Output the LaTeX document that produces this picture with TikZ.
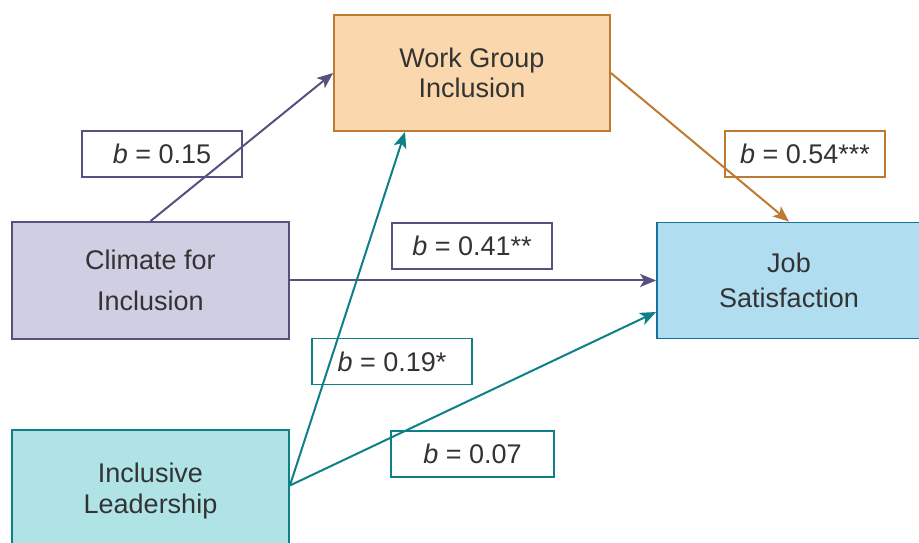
\documentclass[tikz,border=0pt]{standalone}
\usepackage{fontspec}
\setmainfont{Liberation Sans}
\usetikzlibrary{arrows.meta,calc}
\definecolor{wgifill}{HTML}{FAD7AC}
\definecolor{wgidraw}{HTML}{BD7A33}
\definecolor{clifill}{HTML}{D0CEE2}
\definecolor{clidraw}{HTML}{56517E}
\definecolor{leafill}{HTML}{B0E3E6}
\definecolor{leadraw}{HTML}{0E8088}
\definecolor{jsfill}{HTML}{B1DDF0}
\definecolor{jsdraw}{HTML}{10739E}
\definecolor{txt}{HTML}{333333}
\begin{document}
\begin{tikzpicture}[x=1pt,y=1pt,
  box/.style={draw, line width=1.8pt, inner sep=0pt, align=center, text=txt,
    text depth=0pt},
  lbl/.style={draw, line width=1.4pt, minimum width=160pt, minimum height=46pt,
    inner sep=0pt, text=txt, font=\fontsize{27}{30}\selectfont},
  arr/.style={line width=2pt, -{Stealth[length=16pt,width=13pt,inset=4pt]}}]
\useasboundingbox (0,0) rectangle (919,543);
\fill[white] (0,0) rectangle (919,543);

\node[box, fill=wgifill, draw=wgidraw, minimum width=276pt, minimum height=116pt,
  font=\fontsize{27}{30}\selectfont] (wgi) at (472,470) {Work Group\\Inclusion};
\node[box, fill=clifill, draw=clidraw, minimum width=277pt, minimum height=117pt,
  font=\fontsize{27}{41}\selectfont] (cli) at (150.5,262.5) {Climate for\\Inclusion};
\node[box, fill=leafill, draw=leadraw, minimum width=277pt, minimum height=117pt,
  font=\fontsize{27}{31}\selectfont] (lea) at (150.5,54.5) {Inclusive\\Leadership};
\node[box, fill=jsfill, draw=jsdraw, minimum width=264pt, minimum height=116pt,
  font=\fontsize{27}{35}\selectfont] (js) at (789,262.5) {Job\\Satisfaction};

\draw[arr, clidraw] (cli.north) -- (wgi.west);
\draw[arr, clidraw] (cli.east) -- (js.west);
\draw[arr, leadraw] ([yshift=3pt]lea.east) -- ([xshift=-67pt]wgi.south);
\draw[arr, leadraw] ([yshift=3pt]lea.east) -- ([yshift=-31.5pt]js.west);
\draw[arr, wgidraw] (wgi.east) -- (js.north);

\node[lbl, draw=clidraw] (l15) at (162,389) {\textit{b} = 0.15};
\node[lbl, draw=wgidraw] (l54) at (805,389) {\textit{b} = 0.54***};
\node[lbl, draw=clidraw] (l41) at (472,297) {\textit{b} = 0.41**};
\node[lbl, draw=leadraw] (l19) at (392,181.5) {\textit{b} = 0.19*};
\node[lbl, draw=leadraw, minimum width=163pt] (l07) at (472.5,89) {\textit{b} = 0.07};
\end{tikzpicture}
\end{document}
